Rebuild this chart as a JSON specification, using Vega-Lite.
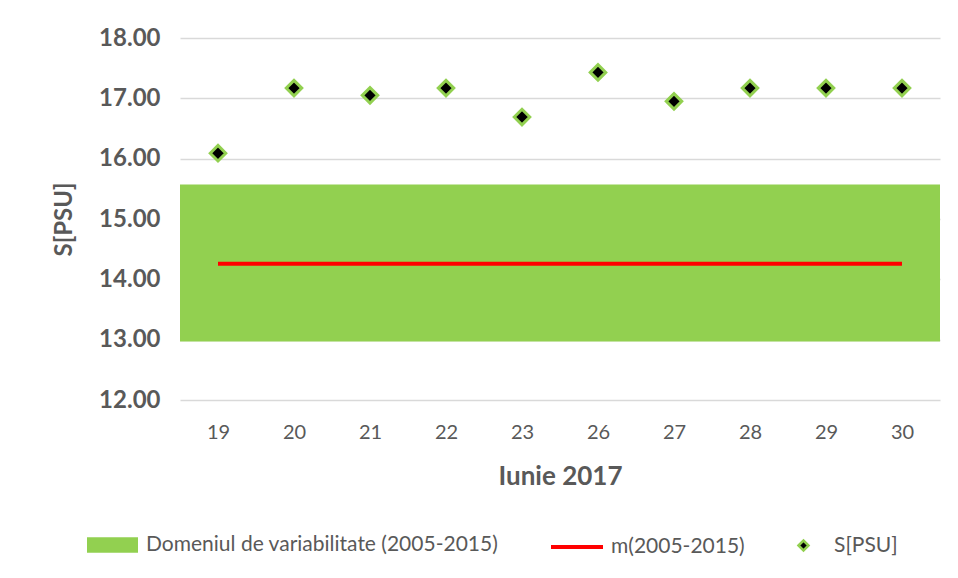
{
  "$schema": "https://vega.github.io/schema/vega-lite/v6.json",
  "autosize": {"type": "none"},
  "width": 760,
  "height": 362,
  "padding": {"left": 180, "top": 38, "right": 18, "bottom": 178},
  "background": "white",
  "config": {
    "view": {"stroke": null},
    "font": "Lato",
    "axis": {"labelColor": "#595959", "titleColor": "#595959", "domain": false, "ticks": false},
    "legend": {"labelFont": "Lato", "labelFontSize": 21, "labelColor": "#595959", "labelLimit": 500, "padding": 0, "title": null}
  },
  "datasets": {
    "salinity": [
      {"zi": "19", "S": 16.09, "series": "S[PSU]"},
      {"zi": "20", "S": 17.17, "series": "S[PSU]"},
      {"zi": "21", "S": 17.05, "series": "S[PSU]"},
      {"zi": "22", "S": 17.17, "series": "S[PSU]"},
      {"zi": "23", "S": 16.69, "series": "S[PSU]"},
      {"zi": "26", "S": 17.43, "series": "S[PSU]"},
      {"zi": "27", "S": 16.95, "series": "S[PSU]"},
      {"zi": "28", "S": 17.17, "series": "S[PSU]"},
      {"zi": "29", "S": 17.17, "series": "S[PSU]"},
      {"zi": "30", "S": 17.17, "series": "S[PSU]"}
    ],
    "mean": [
      {"zi": "19", "m": 14.26, "series": "m(2005-2015)"},
      {"zi": "20", "m": 14.26, "series": "m(2005-2015)"},
      {"zi": "21", "m": 14.26, "series": "m(2005-2015)"},
      {"zi": "22", "m": 14.26, "series": "m(2005-2015)"},
      {"zi": "23", "m": 14.26, "series": "m(2005-2015)"},
      {"zi": "26", "m": 14.26, "series": "m(2005-2015)"},
      {"zi": "27", "m": 14.26, "series": "m(2005-2015)"},
      {"zi": "28", "m": 14.26, "series": "m(2005-2015)"},
      {"zi": "29", "m": 14.26, "series": "m(2005-2015)"},
      {"zi": "30", "m": 14.26, "series": "m(2005-2015)"}
    ],
    "band": [
      {"lo": 12.97, "hi": 15.57, "series": "Domeniul de variabilitate (2005-2015)"}
    ]
  },
  "resolve": {"scale": {"color": "independent"}, "legend": {"color": "independent"}},
  "layer": [
    {
      "data": {"name": "band"},
      "mark": {"type": "rect", "opacity": 1},
      "encoding": {
        "y": {"field": "lo", "type": "quantitative", "scale": {"domain": [12, 18], "nice": false, "zero": false}, "axis": {"title": "S[PSU]"}},
        "y2": {"field": "hi"},
        "color": {
          "field": "series", "type": "nominal",
          "scale": {"range": ["#92d050"]},
          "legend": {
            "orient": "none", "legendX": -93, "legendY": 481.5,
            "symbolType": "M-1,-0.3H1V0.3H-1Z", "symbolSize": 2601,
            "labelOffset": 8, "symbolOpacity": 1, "symbolStrokeWidth": 0
          }
        }
      }
    },
    {
      "data": {"name": "mean"},
      "mark": {"type": "line", "strokeWidth": 4},
      "encoding": {
        "x": {"field": "zi", "type": "ordinal", "sort": null, "scale": {"type": "point", "padding": 0.5}},
        "y": {"field": "m", "type": "quantitative"},
        "color": {
          "field": "series", "type": "nominal",
          "scale": {"range": ["#ff0000"]},
          "legend": {
            "orient": "none", "legendX": 369, "legendY": 481,
            "symbolType": "stroke", "symbolSize": 2704, "symbolStrokeWidth": 4,
            "labelOffset": 6
          }
        }
      }
    },
    {
      "data": {"name": "salinity"},
      "mark": {"type": "point", "shape": "diamond", "filled": true, "size": 240, "stroke": "#92d050", "strokeWidth": 3, "opacity": 1},
      "encoding": {
        "x": {
          "field": "zi", "type": "ordinal", "sort": null,
          "scale": {"type": "point", "padding": 0.5},
          "axis": {"labelAngle": 0, "labelAlign": "center", "labelFontSize": 20, "labelPadding": 32, "title": "Iunie 2017", "titleFontSize": 26, "titleFontWeight": "bold", "titlePadding": 21, "grid": false}
        },
        "y": {
          "field": "S", "type": "quantitative",
          "axis": {"values": [12, 13, 14, 15, 16, 17, 18], "format": ".2f", "labelOverlap": false, "labelFontSize": 24, "labelFontWeight": "bold", "labelPadding": 20, "title": "S[PSU]", "titleFontSize": 24, "titleFontWeight": "bold", "titlePadding": 22, "gridColor": "#d9d9d9", "gridWidth": 1.5}
        },
        "color": {
          "field": "series", "type": "nominal",
          "scale": {"range": ["#000000"]},
          "legend": {
            "orient": "none", "legendX": 613, "legendY": 497,
            "symbolType": "diamond", "symbolSize": 100,
            "symbolStrokeColor": "#92d050", "symbolStrokeWidth": 2.5, "symbolFillColor": "#000000",
            "labelOffset": 20
          }
        }
      }
    }
  ]
}
